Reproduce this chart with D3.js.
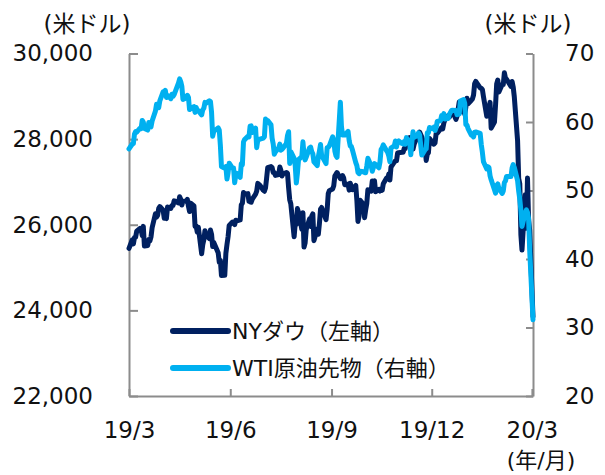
<!DOCTYPE html>
<html>
<head>
<meta charset="utf-8">
<title>NYダウとWTI原油先物</title>
<script src="https://cdn.jsdelivr.net/npm/d3@7"></script>
<style>
body { margin: 0; background: #fff; }
text {
  font-family: "DejaVu Sans", "Noto Sans CJK JP", sans-serif;
  fill: #111;
}
.axis path, .axis line { stroke: #8c8c8c; stroke-width: 2; }
.axis text { font-size: 23px; fill: #111; }
</style>
</head>
<body>
<script>
// trading days, 2019/3/8 - 2020/3/9
var dates = [
  "2019-03-08","2019-03-11","2019-03-12","2019-03-13","2019-03-14","2019-03-15","2019-03-18","2019-03-19","2019-03-20","2019-03-21",
  "2019-03-22","2019-03-25","2019-03-26","2019-03-27","2019-03-28","2019-03-29","2019-04-01","2019-04-02","2019-04-03","2019-04-04",
  "2019-04-05","2019-04-08","2019-04-09","2019-04-10","2019-04-11","2019-04-12","2019-04-15","2019-04-16","2019-04-17","2019-04-18",
  "2019-04-22","2019-04-23","2019-04-24","2019-04-25","2019-04-26","2019-04-29","2019-04-30","2019-05-01","2019-05-02","2019-05-03",
  "2019-05-06","2019-05-07","2019-05-08","2019-05-09","2019-05-10","2019-05-13","2019-05-14","2019-05-15","2019-05-16","2019-05-17",
  "2019-05-20","2019-05-21","2019-05-22","2019-05-23","2019-05-24","2019-05-28","2019-05-29","2019-05-30","2019-05-31","2019-06-03",
  "2019-06-04","2019-06-05","2019-06-06","2019-06-07","2019-06-10","2019-06-11","2019-06-12","2019-06-13","2019-06-14","2019-06-17",
  "2019-06-18","2019-06-19","2019-06-20","2019-06-21","2019-06-24","2019-06-25","2019-06-26","2019-06-27","2019-06-28","2019-07-01",
  "2019-07-02","2019-07-03","2019-07-05","2019-07-08","2019-07-09","2019-07-10","2019-07-11","2019-07-12","2019-07-15","2019-07-16",
  "2019-07-17","2019-07-18","2019-07-19","2019-07-22","2019-07-23","2019-07-24","2019-07-25","2019-07-26","2019-07-29","2019-07-30",
  "2019-07-31","2019-08-01","2019-08-02","2019-08-05","2019-08-06","2019-08-07","2019-08-08","2019-08-09","2019-08-12","2019-08-13",
  "2019-08-14","2019-08-15","2019-08-16","2019-08-19","2019-08-20","2019-08-21","2019-08-22","2019-08-23","2019-08-26","2019-08-27",
  "2019-08-28","2019-08-29","2019-08-30","2019-09-03","2019-09-04","2019-09-05","2019-09-06","2019-09-09","2019-09-10","2019-09-11",
  "2019-09-12","2019-09-13","2019-09-16","2019-09-17","2019-09-18","2019-09-19","2019-09-20","2019-09-23","2019-09-24","2019-09-25",
  "2019-09-26","2019-09-27","2019-09-30","2019-10-01","2019-10-02","2019-10-03","2019-10-04","2019-10-07","2019-10-08","2019-10-09",
  "2019-10-10","2019-10-11","2019-10-14","2019-10-15","2019-10-16","2019-10-17","2019-10-18","2019-10-21","2019-10-22","2019-10-23",
  "2019-10-24","2019-10-25","2019-10-28","2019-10-29","2019-10-30","2019-10-31","2019-11-01","2019-11-04","2019-11-05","2019-11-06",
  "2019-11-07","2019-11-08","2019-11-11","2019-11-12","2019-11-13","2019-11-14","2019-11-15","2019-11-18","2019-11-19","2019-11-20",
  "2019-11-21","2019-11-22","2019-11-25","2019-11-26","2019-11-27","2019-11-29","2019-12-02","2019-12-03","2019-12-04","2019-12-05",
  "2019-12-06","2019-12-09","2019-12-10","2019-12-11","2019-12-12","2019-12-13","2019-12-16","2019-12-17","2019-12-18","2019-12-19",
  "2019-12-20","2019-12-23","2019-12-24","2019-12-26","2019-12-27","2019-12-30","2019-12-31","2020-01-02","2020-01-03","2020-01-06",
  "2020-01-07","2020-01-08","2020-01-09","2020-01-10","2020-01-13","2020-01-14","2020-01-15","2020-01-16","2020-01-17","2020-01-21",
  "2020-01-22","2020-01-23","2020-01-24","2020-01-27","2020-01-28","2020-01-29","2020-01-30","2020-01-31","2020-02-03","2020-02-04",
  "2020-02-05","2020-02-06","2020-02-07","2020-02-10","2020-02-11","2020-02-12","2020-02-13","2020-02-14","2020-02-18","2020-02-19",
  "2020-02-20","2020-02-21","2020-02-24","2020-02-25","2020-02-26","2020-02-27","2020-02-28","2020-03-02","2020-03-03","2020-03-04",
  "2020-03-05","2020-03-06","2020-03-09"
];

// NYダウ (米ドル)
var dow = [
  25450,25650,25554,25702,25709,25849,25914,25887,25745,25962,
  25502,25516,25657,25626,25717,25929,26258,26179,26218,26385,
  26425,26341,26151,26157,26143,26412,26384,26452,26450,26559,
  26511,26656,26597,26462,26543,26554,26593,26430,26308,26505,
  26438,25965,25968,25828,25942,25324,25532,25648,25862,25764,
  25679,25877,25776,25490,25586,25347,25126,25169,24815,24819,
  25332,25540,25720,25984,26062,26048,26004,26106,26090,26112,
  26465,26504,26753,26719,26727,26548,26536,26526,26600,26717,
  26787,26966,26922,26806,26783,26860,27088,27332,27359,27335,
  27219,27223,27154,27172,27349,27270,27140,27192,27221,27198,
  26864,26583,26485,25718,26030,26008,26378,26287,25897,26280,
  25479,25579,25886,26136,25962,26202,26253,25629,25899,25778,
  26036,26363,26403,26118,26355,26728,26797,26835,26910,27137,
  27182,27220,27076,27111,27147,27094,26935,26949,26808,26970,
  26891,26820,26917,26573,26078,26201,26573,26478,26164,26346,
  26497,26817,26787,27024,27001,27026,26770,26828,26788,26834,
  26806,26958,27091,27071,27186,27046,27347,27462,27492,27492,
  27675,27681,27691,27691,27784,27782,28005,28036,27934,27821,
  27767,27876,28066,28122,28165,28051,27783,27503,27650,27678,
  28015,27910,27881,27911,28132,28135,28235,28268,28240,28377,
  28455,28551,28516,28621,28645,28462,28538,28869,28635,28703,
  28584,28745,28957,28824,28908,28940,29030,29298,29348,29196,
  29186,29160,28990,28535,28723,28734,28859,28256,28399,28808,
  29291,29380,29103,29276,29277,29551,29424,29398,29232,29348,
  29220,28992,27961,27081,26957,25766,25409,26703,25917,27091,
  26121,25865,23851
];

// WTI原油先物 (米ドル)
var wti = [
  56.07,56.79,56.87,58.26,58.61,58.52,59.09,59.03,60.23,59.98,
  59.04,58.82,59.94,59.41,59.30,60.14,61.59,62.58,62.46,62.10,
  63.08,64.40,64.05,64.61,63.58,63.89,63.40,64.05,63.76,64.00,
  65.70,66.30,65.89,65.21,63.30,63.50,63.91,63.60,61.81,61.94,
  62.25,61.40,62.12,61.70,61.66,61.04,61.78,62.02,62.87,62.76,
  63.10,62.99,61.42,57.91,58.63,59.14,58.81,56.59,53.50,53.25,
  53.48,51.68,52.59,53.99,53.26,53.27,51.14,52.28,52.51,51.93,
  53.90,53.76,57.07,57.43,57.90,57.83,59.38,59.43,58.47,59.09,
  56.25,57.34,57.51,57.66,57.83,60.43,60.20,60.21,59.58,57.62,
  56.78,55.30,55.63,56.22,56.77,55.88,56.02,56.20,56.87,58.05,
  58.58,53.95,55.66,54.69,53.63,51.09,52.54,54.50,54.93,57.10,
  55.23,54.47,54.87,56.21,56.34,55.68,55.35,54.17,53.64,54.93,
  55.78,56.71,55.10,53.94,56.26,56.30,56.52,57.85,57.40,55.75,
  55.09,54.85,62.90,59.34,58.11,58.13,58.09,58.64,57.29,56.49,
  56.41,55.91,54.07,53.62,52.64,52.45,52.81,52.75,52.63,52.59,
  53.55,54.70,53.59,52.81,53.36,53.93,53.78,53.31,54.16,55.97,
  56.23,56.66,55.81,55.54,55.06,54.18,56.20,56.54,57.23,56.35,
  57.15,57.24,56.86,56.80,57.12,56.77,57.72,57.05,55.21,57.11,
  58.58,57.77,58.01,58.41,58.11,55.17,55.96,56.10,58.43,58.43,
  59.20,59.02,59.24,58.76,59.18,60.07,60.21,60.94,60.93,61.22,
  60.44,60.52,61.11,61.68,61.72,61.68,61.06,61.18,63.05,63.27,
  62.70,59.61,59.56,59.04,58.08,58.23,57.81,58.52,58.54,58.34,
  56.74,55.59,54.19,53.14,53.48,53.33,52.14,51.56,50.11,49.61,
  50.75,50.95,50.32,49.57,49.94,51.17,51.42,52.05,52.05,53.29,
  53.78,53.38,51.43,49.90,48.73,47.09,44.76,46.75,47.18,46.78,
  45.90,41.28,31.13
];

var leftTicks = [22000, 24000, 26000, 28000, 30000];
var rightTicks = [20, 30, 40, 50, 60, 70];
var seriesNames = ["NYダウ（左軸）", "WTI原油先物（右軸）"];
var seriesColors = ["#002060", "#00b0f0"];

var width = 605, height = 475;
var plotL = 129, plotR = 533, plotT = 53.5, plotB = 396;

var parse = d3.timeParse("%Y-%m-%d");
var rows = dates.map(function(d, i) {
  return {date: parse(d), dow: dow[i], wti: wti[i]};
});

var start = rows[0].date, end = rows[rows.length - 1].date;
// a tick every 3 months from the first day
var xTicks = d3.range(5).map(function(i) { return d3.timeMonth.offset(start, 3 * i); });

var x = d3.scaleTime().domain([start, end]).range([plotL, plotR]);
var yL = d3.scaleLinear().domain([22000, 30000]).range([plotB, plotT]);
var yR = d3.scaleLinear().domain([20, 70]).range([plotB, plotT]);

var svg = d3.select("body").append("svg")
  .attr("width", width)
  .attr("height", height);

svg.append("g")
  .attr("class", "axis")
  .attr("transform", "translate(" + plotL + ",0)")
  .call(d3.axisLeft(yL).tickValues(leftTicks).tickFormat(d3.format(",")).tickSize(-9).tickSizeOuter(0).tickPadding(36));

svg.append("g")
  .attr("class", "axis")
  .attr("transform", "translate(" + plotR + ",0)")
  .call(d3.axisRight(yR).tickValues(rightTicks).tickSize(-7).tickSizeOuter(0).tickPadding(32))
  .selectAll("text").attr("x", 32);

svg.append("g")
  .attr("class", "axis")
  .attr("transform", "translate(0," + plotB + ")")
  .call(d3.axisBottom(x).tickValues(xTicks).tickFormat(d3.timeFormat("%y/%-m")).tickSize(-7).tickSizeOuter(0).tickPadding(26));

svg.selectAll(".axis text").attr("fill", "#111");

var lineL = d3.line().x(function(d) { return x(d.date); }).y(function(d) { return yL(d.dow); });
var lineR = d3.line().x(function(d) { return x(d.date); }).y(function(d) { return yR(d.wti); });

svg.append("path").datum(rows)
  .attr("d", lineL)
  .attr("fill", "none").attr("stroke", seriesColors[0])
  .attr("stroke-width", 5).attr("stroke-linejoin", "round").attr("stroke-linecap", "round");

svg.append("path").datum(rows)
  .attr("d", lineR)
  .attr("fill", "none").attr("stroke", seriesColors[1])
  .attr("stroke-width", 5).attr("stroke-linejoin", "round").attr("stroke-linecap", "round");

// legend
var legend = svg.append("g").selectAll("g")
  .data(seriesNames)
  .enter().append("g")
  .attr("transform", function(d, i) { return "translate(173," + (331 + i * 37) + ")"; });
legend.append("line")
  .attr("x1", 0).attr("x2", 55)
  .attr("stroke", function(d, i) { return seriesColors[i]; })
  .attr("stroke-width", 6).attr("stroke-linecap", "round");
legend.append("text")
  .attr("x", 59).attr("dy", "0.35em")
  .style("font-size", "22px")
  .text(function(d) { return d; });

// unit labels
svg.append("text").attr("x", 87).attr("y", 32).attr("text-anchor", "middle")
  .style("font-size", "23px").text("(米ドル)");
svg.append("text").attr("x", 528).attr("y", 32).attr("text-anchor", "middle")
  .style("font-size", "23px").text("(米ドル)");
svg.append("text").attr("x", 541).attr("y", 468).attr("text-anchor", "middle")
  .style("font-size", "22px").text("(年/月)");
</script>
</body>
</html>
